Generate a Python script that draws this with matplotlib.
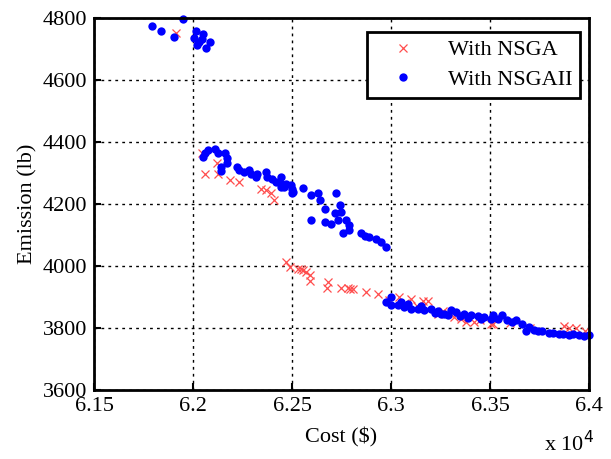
import matplotlib
matplotlib.use("Agg")
import matplotlib.pyplot as plt
from matplotlib.ticker import FuncFormatter

# points (cost in $, emission in lb)
nsga_cost = [61913, 62043, 62060, 62119, 62127, 62185, 62232, 62342, 62367, 62392,
             62408, 62471, 62488, 62530, 62545, 62555, 62572, 62590, 62590, 62681,
             62676, 62748, 62785, 62795, 62807, 62874, 62933, 62990, 63042, 63070,
             63101, 63130, 63160, 63185, 63236, 63260, 63290, 63320, 63353, 63378,
             63420, 63450, 63504, 63513, 63600, 63700, 63874, 63899, 63933, 63980]
nsga_emis = [4751, 4363, 4298, 4331, 4298, 4277, 4271, 4250, 4244, 4236,
             4212, 4013, 3997, 3992, 3990, 3986, 3981, 3970, 3952, 3948,
             3930, 3930, 3928, 3925, 3925, 3916, 3911, 3890, 3900, 3880,
             3895, 3870, 3889, 3886, 3846, 3856, 3850, 3835, 3830, 3819,
             3821, 3825, 3814, 3814, 3815, 3800, 3808, 3800, 3800, 3790]

nsga2_cost = [61790, 61838, 61903, 61949, 62013, 62051, 62005, 62029, 62021, 62043,
              62088, 62065,
              62060, 62051, 62076, 62110, 62127, 62161, 62169, 62169, 62140, 62143,
              62224, 62232, 62257, 62283, 62291, 62325, 62316, 62366, 62375, 62400,
              62417, 62442, 62459, 62446, 62446, 62471, 62496, 62501, 62505, 62501,
              62556, 62598, 62631, 62640, 62665, 62723, 62740, 62715, 62749, 62598,
              62665, 62699, 62732, 62774, 62790, 62757, 62790, 62849, 62866, 62891,
              62925, 62950, 62975,
              62975, 63000, 63000, 63034, 63050, 63067, 63085, 63101, 63134, 63150,
              63168, 63202, 63220, 63236, 63250, 63269, 63290, 63303, 63328, 63350,
              63370, 63390, 63404, 63438, 63455, 63471, 63504, 63513, 63540, 63563,
              63588, 63610, 63630, 63664, 63697, 63681, 63720, 63740, 63765, 63798,
              63820, 63849, 63870, 63899, 63920, 63950, 63975, 64000]
nsga2_emis = [4775, 4758, 4740, 4796, 4759, 4748, 4734, 4723, 4713, 4731,
              4723, 4702,
              4363, 4352, 4374, 4376, 4363, 4363, 4347, 4331, 4320, 4307,
              4320, 4309, 4304, 4309, 4298, 4298, 4287, 4304, 4287, 4282,
              4271, 4266, 4255, 4287, 4255, 4266, 4261, 4250, 4239, 4234,
              4253, 4228, 4236, 4212, 4185, 4236, 4196, 4171, 4174, 4150,
              4142, 4135, 4148, 4148, 4131, 4105, 4115, 4107, 4096, 4094,
              4088, 4077, 4061,
              3884, 3900, 3873, 3873, 3885, 3868, 3878, 3862, 3860, 3870,
              3857, 3860, 3848, 3854, 3845, 3846, 3842, 3857, 3851, 3840,
              3846, 3832, 3841, 3838, 3830, 3835, 3830, 3841, 3828, 3841,
              3825, 3820, 3825, 3814, 3803, 3792, 3795, 3790, 3792, 3784,
              3784, 3781, 3780, 3779, 3780, 3779, 3776, 3778]

x_ticks = [61500, 62000, 62500, 63000, 63500, 64000]
y_ticks = [3600, 3800, 4000, 4200, 4400, 4600, 4800]

plt.rcParams["font.family"] = "Liberation Serif"
plt.rcParams["font.size"] = 16

fig = plt.figure(figsize=(6.11, 4.59), dpi=100)
ax = fig.add_axes([0.154, 0.150, 0.810, 0.811])

ax.plot(nsga_cost, nsga_emis, "x", color=(1.0, 0.3, 0.3), markersize=6,
        markeredgewidth=0.9, label="With NSGA", clip_on=False)
ax.plot(nsga2_cost, nsga2_emis, "o", color="#0000ff", markersize=6,
        markeredgewidth=0, label="With NSGAII", clip_on=False)

ax.set_xlim(61500, 64000)
ax.set_ylim(3600, 4800)
ax.set_xticks(x_ticks)
ax.set_yticks(y_ticks)
ax.xaxis.set_major_formatter(FuncFormatter(lambda v, p: f"{v / 1e4:g}"))
ax.tick_params(direction="in", length=5, width=1.5)
ax.tick_params(axis="x", pad=5)
ax.tick_params(axis="y", pad=5)
ax.grid(True, color="black", linestyle=(0, (2, 3)), linewidth=1.0)
for s in ax.spines.values():
    s.set_linewidth(2)

ax.set_xlabel(r"Cost (\$)", labelpad=8)
ax.set_ylabel("Emission (lb)", labelpad=4)
fig.text(0.89, 0.018, r"x 10$^4$", fontsize=16)

leg = ax.legend(loc="upper right", bbox_to_anchor=(0.982, 0.962), borderaxespad=0,
                fancybox=False, edgecolor="black", framealpha=1, borderpad=0.35,
                handlelength=2.6, handletextpad=0.7, labelspacing=0.4, numpoints=1)
leg.get_frame().set_linewidth(2)

fig.savefig("out.png", dpi=100)
